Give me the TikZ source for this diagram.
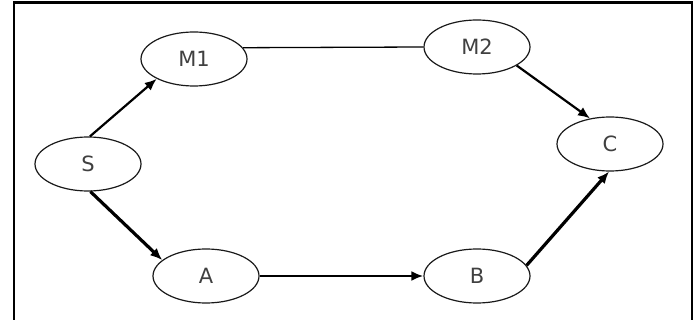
\documentclass[tikz,border=0pt]{standalone}
\usepackage{fontspec}
\setmainfont{DejaVu Sans}
\usetikzlibrary{shapes.geometric,arrows.meta}
\begin{document}
\begin{tikzpicture}[x=1pt,y=-1pt,
  state/.style={ellipse,draw=black!90,line width=1.2pt,minimum width=106pt,minimum height=54pt,inner sep=0pt,font=\fontsize{21}{24}\selectfont,text=black!75},
  arr/.style={-{Latex[length=12pt,width=10pt]}},
  frame/.style={line width=2.6pt}]
\useasboundingbox (0,0) rectangle (696,320);
\draw[frame] (14,322) -- (14,2.5) -- (692,2.5) -- (692,322);
\node[state] (M1) at (194,59) {M1};
\node[state] (S)  at (88,164) {S};
\node[state] (A)  at (206,276) {A};
\node[state] (M2) at (477,47) {M2};
\node[state] (C)  at (610,144) {C};
\node[state] (B)  at (477,276) {B};
\draw[arr,line width=2.2pt] (S.86) -- (M1.208);
\draw[line width=1.3pt] (M1.13) -- (M2.west);
\draw[arr,line width=2.2pt] (M2.-25) -- (C.128);
\draw[arr,line width=3.2pt] (S.-85) -- (A.160);
\draw[arr,line width=2.8pt] (A.east) -- (B.west);
\draw[arr,line width=3.2pt] (B.12) -- (C.-92);
\end{tikzpicture}
\end{document}
